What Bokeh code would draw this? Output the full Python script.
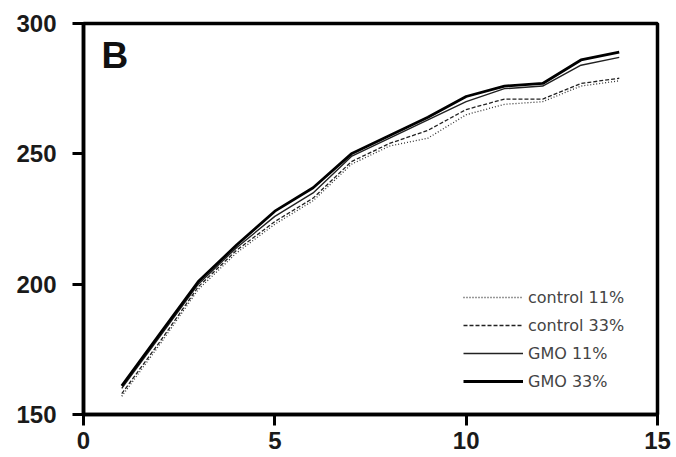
from bokeh.plotting import figure
from bokeh.models import Range1d, FixedTicker, Legend, LegendItem, Label
from bokeh.embed import file_html
from bokeh.resources import INLINE

weeks = [1, 2, 3, 4, 5, 6, 7, 8, 9, 10, 11, 12, 13, 14]
control_11 = [157, 177, 198, 212, 223, 232, 246, 253, 256, 265, 269, 270, 276, 278]
control_33 = [158, 178, 199, 213, 224, 233, 247, 254, 259, 267, 271, 271, 277, 279]
gmo_11 = [160, 180, 200, 214, 226, 235, 249, 256, 263, 270, 275, 276, 284, 287]
gmo_33 = [161, 181, 201, 215, 228, 237, 250, 257, 264, 272, 276, 277, 286, 289]
x_ticks = [0, 5, 10, 15]
y_ticks = [150, 200, 250, 300]

FONT = "Liberation Sans"

p = figure(width=676, height=457, output_backend="svg", toolbar_location=None,
           x_range=Range1d(0, 15), y_range=Range1d(150, 300),
           min_border_left=83, min_border_right=19, min_border_top=23, min_border_bottom=43)
p.grid.visible = False
p.outline_line_color = "black"
p.outline_line_width = 3.5
p.background_fill_color = "white"
p.border_fill_color = "white"

for ax, ticks in ((p.xaxis[0], x_ticks), (p.yaxis[0], y_ticks)):
    ax.ticker = FixedTicker(ticks=ticks)
    ax.axis_line_width = 3.5
    ax.major_tick_line_width = 3
    ax.major_tick_out = 11
    ax.major_tick_in = 0
    ax.minor_tick_line_color = None
    ax.major_label_text_font = FONT
    ax.major_label_text_font_style = "bold"
    ax.major_label_text_font_size = "24px"
    ax.major_label_text_color = "#1a1a1a"
p.yaxis[0].major_label_standoff = 16
p.xaxis[0].major_label_standoff = 6

r1 = p.line(weeks, control_11, line_color="#333333", line_width=1.3, line_dash="1 2")
r2 = p.line(weeks, control_33, line_color="#222222", line_width=1.3, line_dash="4 2")
r3 = p.line(weeks, gmo_11, line_color="#222222", line_width=1.4)
r4 = p.line(weeks, gmo_33, line_color="black", line_width=2.8)

legend = Legend(items=[LegendItem(label="control 11%", renderers=[r1]),
                       LegendItem(label="control 33%", renderers=[r2]),
                       LegendItem(label="GMO 11%", renderers=[r3]),
                       LegendItem(label="GMO 33%", renderers=[r4])],
                location=(380, 23), padding=0, margin=0, spacing=8,
                glyph_width=60, glyph_height=20, label_standoff=5,
                label_text_font="DejaVu Sans", label_text_font_size="16px",
                label_text_color="#444444",
                border_line_color=None, background_fill_alpha=0)
p.add_layout(legend, "center")

p.add_layout(Label(x=18, y=359, x_units="screen", y_units="screen", text="B",
                   text_font=FONT, text_font_style="bold", text_font_size="37px",
                   text_color="#111111", text_baseline="alphabetic"))

open("out.html", "w").write(file_html(p, INLINE))
